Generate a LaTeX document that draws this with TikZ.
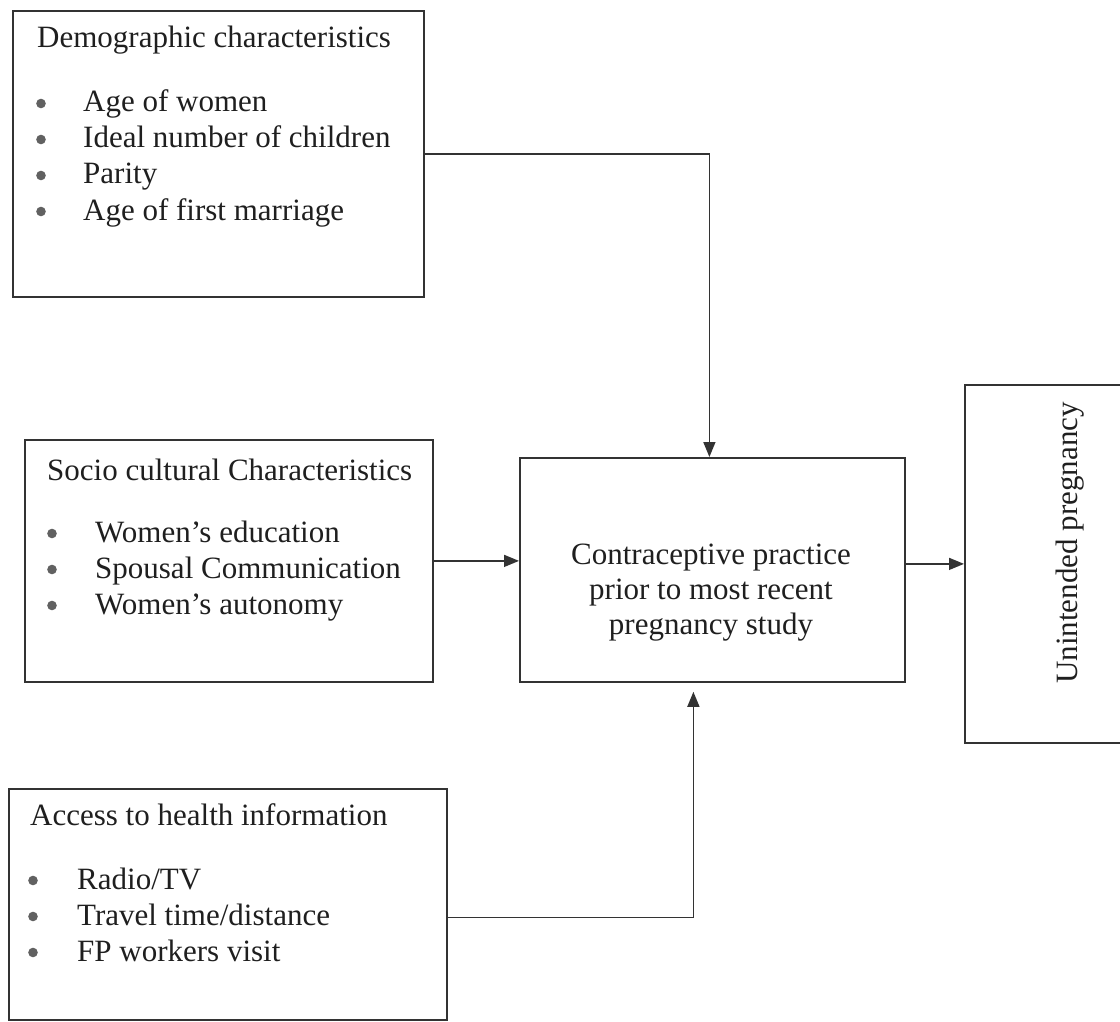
\documentclass[tikz,border=0pt]{standalone}
\usepackage{fontspec}
\setmainfont{Liberation Serif}
\usetikzlibrary{arrows.meta}
\begin{document}
\begin{tikzpicture}[x=1pt,y=-1pt,
  framebox/.style={draw=black!80,line width=1.8pt,rectangle,inner sep=0pt,anchor=north west},
  txt/.style={inner sep=0pt,text=black!88,font=\fontsize{31}{36}\selectfont},
  item/.style={txt,anchor=base west},
  bulletdot/.style={fill=black!62},
  arr/.style={draw=black!80,line width=1.5pt,-{Triangle[length=15pt,width=12pt]}}]
\useasboundingbox (0,0) rectangle (1120,1022);
\clip (0,0) rectangle (1120,1022);
\fill[white] (0,0) rectangle (1120,1022);
% boxes
\node[framebox,minimum width=411pt,minimum height=286pt] (demo) at (12,10) {};
\node[framebox,minimum width=408pt,minimum height=242pt] (socio) at (24,439) {};
\node[framebox,minimum width=438pt,minimum height=231pt] (access) at (8,788) {};
\node[framebox,minimum width=385pt,minimum height=224pt] (center) at (519,457) {};
\node[framebox,minimum width=190pt,minimum height=358pt] (outcome) at (964,384) {};
% demographic text
\node[txt,anchor=base west] (demoT) at (37,48) {Demographic characteristics};
\node[item] (demoA) at (83,112) {Age of women};
\node[item] (demoB) at (83,148) {Ideal number of children};
\node[item] (demoC) at (83,184) {Parity};
\node[item] (demoD) at (83,220) {Age of first marriage};
\foreach \n in {demoA,demoB,demoC,demoD}
  \fill[bulletdot] ([xshift=-42pt,yshift=8.5pt]\n.base west) circle (4.8pt);
% socio text
\node[txt,anchor=base west] (socioT) at (47,480) {Socio cultural Characteristics};
\node[item] (socioA) at (95,542) {Women’s education};
\node[item] (socioB) at (95,578) {Spousal Communication};
\node[item] (socioC) at (95,614) {Women’s autonomy};
\foreach \n in {socioA,socioB,socioC}
  \fill[bulletdot] ([xshift=-43pt,yshift=8.5pt]\n.base west) circle (4.8pt);
% access text
\node[txt,anchor=base west] (accT) at (30,825) {Access to health information};
\node[item] (accA) at (77,889) {Radio/TV};
\node[item] (accB) at (77,925) {Travel time/distance};
\node[item] (accC) at (77,961) {FP workers visit};
\foreach \n in {accA,accB,accC}
  \fill[bulletdot] ([xshift=-44pt,yshift=8.5pt]\n.base west) circle (4.8pt);
% center text
\node[txt,anchor=base] (cA) at (711,564) {Contraceptive practice};
\node[txt,anchor=base] (cB) at (711,599) {prior to most recent};
\node[txt,anchor=base] (cC) at (711,634) {pregnancy study};
% outcome text
\node[txt,anchor=base,rotate=90] (oT) at (1077,543) {Unintended pregnancy};
% connectors
\draw[arr] (demo.east) -| ([xshift=-3pt]center.north);
\draw[arr] (socio.east) -- (socio.east -| center.west);
\draw[arr] ([yshift=-13pt]access.east) -| ([xshift=-19pt,yshift=-9pt]center.south);
\draw[arr] (outcome.west -| center.east) -- (outcome.west);
\end{tikzpicture}
\end{document}
